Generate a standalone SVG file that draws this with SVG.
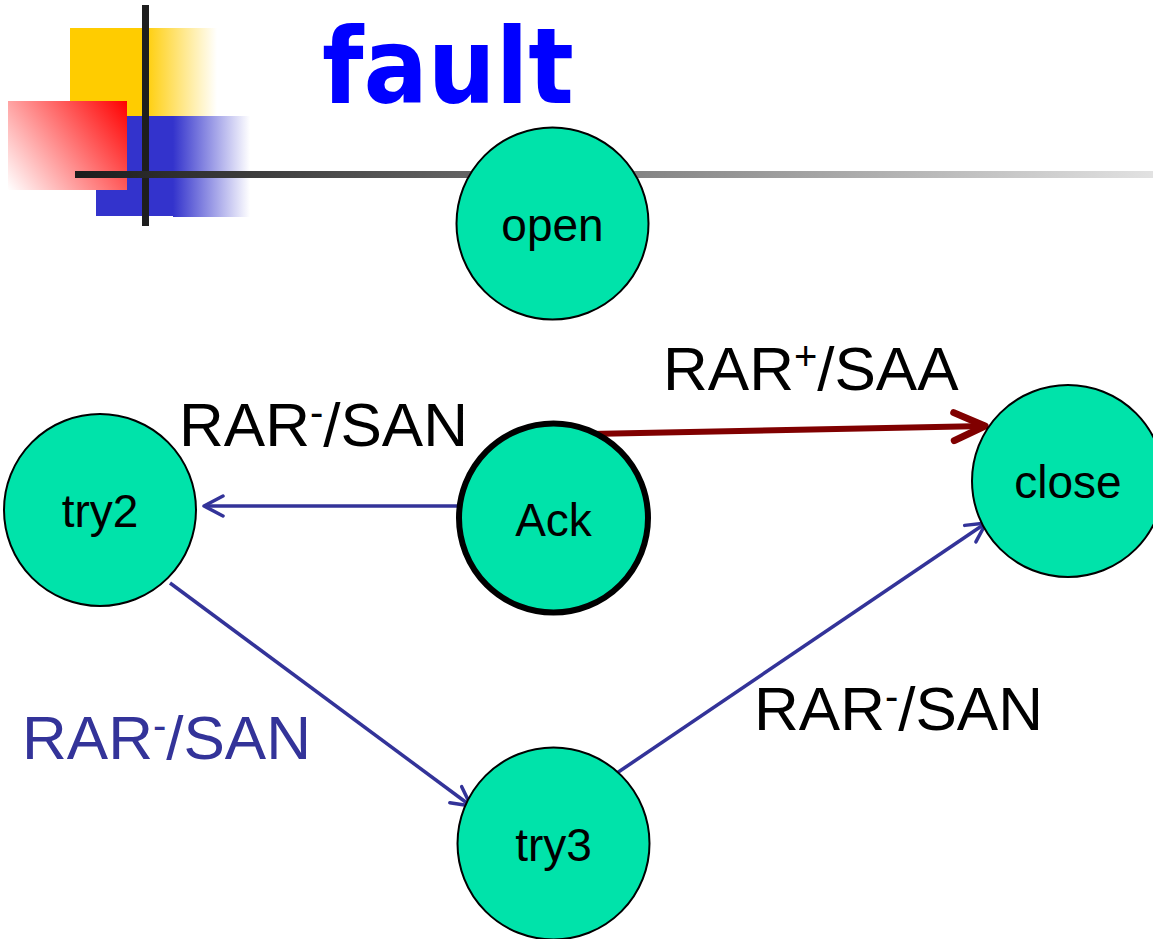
<svg xmlns="http://www.w3.org/2000/svg" width="1153" height="939" viewBox="0 0 1153 939">
  <style>
    .node { fill: #00E3AA; stroke: #000; stroke-width: 2; }
    .node-strong { fill: #00E3AA; stroke: #000; stroke-width: 6; }
    .nlabel { font-family: "Liberation Sans", Arial, sans-serif; font-size: 46px; fill: #000; text-anchor: middle; }
    .elabel { font-family: "Liberation Sans", Arial, sans-serif; font-size: 62px; fill: #000; }
    .sup { font-size: 40px; }
    .edge-blue { stroke: #333399; stroke-width: 3.5; fill: none; }
    .edge-red { stroke: #800000; stroke-width: 6; fill: none; }
  </style>
  <defs>
    <linearGradient id="yellowFade" x1="143" y1="0" x2="217" y2="0" gradientUnits="userSpaceOnUse">
      <stop offset="0" stop-color="#FFCC00"/>
      <stop offset="1" stop-color="#FFFFFF"/>
    </linearGradient>
    <linearGradient id="blueFade" x1="173" y1="0" x2="250" y2="0" gradientUnits="userSpaceOnUse">
      <stop offset="0" stop-color="#3333CC"/>
      <stop offset="1" stop-color="#FFFFFF"/>
    </linearGradient>
    <linearGradient id="redFade" x1="127" y1="101" x2="8" y2="190" gradientUnits="userSpaceOnUse">
      <stop offset="0" stop-color="#FF0000"/>
      <stop offset="1" stop-color="#FFFFFF"/>
    </linearGradient>
    <linearGradient id="barFade" x1="75" y1="0" x2="1153" y2="0" gradientUnits="userSpaceOnUse">
      <stop offset="0" stop-color="#1C1C1C"/>
      <stop offset="1" stop-color="#E2E2E2"/>
    </linearGradient>
    <marker id="headBlue" markerUnits="userSpaceOnUse" viewBox="-26 -16 32 32" markerWidth="32" markerHeight="32" refX="0" refY="0" orient="auto" overflow="visible">
      <path d="M -19 -10 L 0 0 L -19 10" fill="none" stroke="#333399" stroke-width="3.5" stroke-linecap="round" stroke-linejoin="round"/>
    </marker>
    <marker id="headRed" markerUnits="userSpaceOnUse" viewBox="-40 -20 48 40" markerWidth="48" markerHeight="40" refX="0" refY="0" orient="auto" overflow="visible">
      <path d="M -31 -14 L 0 0 L -31 14" fill="none" stroke="#800000" stroke-width="7" stroke-linecap="round" stroke-linejoin="round"/>
    </marker>
  </defs>

  <rect width="1153" height="939" fill="#fff"/>

  <!-- corner ornament -->
  <g id="ornament">
    <rect x="70" y="28" width="74" height="88" fill="#FFCC00"/>
    <rect x="143" y="28" width="74" height="88" fill="url(#yellowFade)"/>
    <rect x="96" y="116" width="78" height="100" fill="#3333CC"/>
    <rect x="173" y="116" width="77" height="101" fill="url(#blueFade)"/>
    <rect x="8" y="101" width="119" height="89" fill="url(#redFade)"/>
    <rect x="142" y="5" width="7" height="221" fill="#1E1E1E"/>
    <rect x="75" y="171" width="1078" height="7" fill="url(#barFade)"/>
  </g>

  <text id="title" x="322" y="103" font-family="'DejaVu Sans Condensed', 'DejaVu Sans', sans-serif" font-weight="bold" font-size="106" fill="#0000FF">fault</text>

  <!-- transitions -->
  <g id="connectors">
    <line class="edge-red" x1="590" y1="434" x2="985" y2="426" marker-end="url(#headRed)"/>
    <line class="edge-blue" x1="457" y1="506" x2="204" y2="506" marker-end="url(#headBlue)"/>
    <line class="edge-blue" x1="170" y1="583" x2="471" y2="806" marker-end="url(#headBlue)"/>
    <line class="edge-blue" x1="611" y1="777" x2="986" y2="523" marker-end="url(#headBlue)"/>
  </g>

  <g id="node-open">
    <circle class="node" cx="552.5" cy="223.5" r="96"/>
    <text class="nlabel" x="552.5" y="241">open</text>
  </g>
  <g id="node-ack">
    <circle class="node-strong" cx="553.5" cy="518" r="94.5"/>
    <text class="nlabel" x="553.5" y="536">Ack</text>
  </g>
  <g id="node-try2">
    <circle class="node" cx="100" cy="510" r="96"/>
    <text class="nlabel" x="100" y="527">try2</text>
  </g>
  <g id="node-close">
    <circle class="node" cx="1068" cy="481" r="96"/>
    <text class="nlabel" x="1068" y="498">close</text>
  </g>
  <g id="node-try3">
    <circle class="node" cx="553.5" cy="843.5" r="96"/>
    <text class="nlabel" x="553.5" y="861">try3</text>
  </g>

  <!-- transition labels -->
  <g id="labels">
    <text class="elabel" x="663" y="390">RAR<tspan class="sup" dy="-20">+</tspan><tspan dy="20">/SAA</tspan></text>
    <text class="elabel" x="179" y="446">RAR<tspan class="sup" dy="-20">-</tspan><tspan dy="20">/SAN</tspan></text>
    <text class="elabel" x="22" y="759" style="fill:#333399">RAR<tspan class="sup" dy="-20">-</tspan><tspan dy="20">/SAN</tspan></text>
    <text class="elabel" x="754" y="730">RAR<tspan class="sup" dy="-20">-</tspan><tspan dy="20">/SAN</tspan></text>
  </g>
</svg>
